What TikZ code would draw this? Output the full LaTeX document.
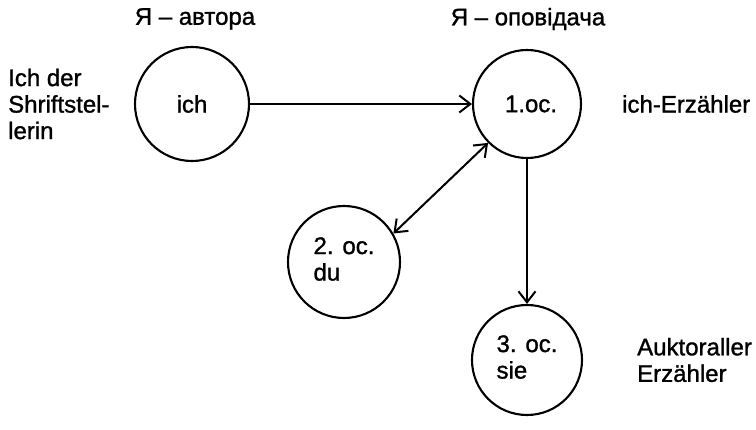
\documentclass[tikz,border=0pt]{standalone}
\usepackage{fontspec}
\setmainfont{Liberation Sans}
\newfontfamily\dkfont{Liberation Sans}[FakeBold=1.2]
\usetikzlibrary{arrows.meta}
\tikzset{
  circ/.style={circle, draw, line width=2.1pt, minimum size=110pt, inner sep=0pt, font=\dkfont\fontsize{24}{26.5}\selectfont},
  lbl/.style={inner sep=0pt, font=\dkfont\fontsize{24}{26.5}\selectfont},
  conn/.style={line width=2pt, -{Straight Barb[length=11pt,width=17pt,line width=2pt]}},
  dconn/.style={line width=2pt, {Straight Barb[length=11pt,width=17pt,line width=2pt]}-{Straight Barb[length=11pt,width=17pt,line width=2pt]}}
}
\begin{document}
\begin{tikzpicture}[x=1pt,y=-1pt]
\useasboundingbox (0,0) rectangle (756,430);
\node[circ, minimum size=114pt] (ich) at (192,104) {ich};
\node[circ, minimum size=108pt] (one) at (527,104) {\hspace*{8pt}1.ос.};
\node[circ, minimum size=112pt] (two) at (344,262) {\begin{tabular}{@{}l@{}}2. ос.\\du\end{tabular}};
\node[circ, minimum size=110pt] (three) at (527,360) {\begin{tabular}{@{}l@{}}3. ос.\\sie\end{tabular}};
\node[lbl] (tA) at (195,19) {Я – автора};
\node[lbl] (tB) at (528,19) {Я – оповідача};
\node[lbl, anchor=west, align=left] (left) at (8,104) {Ich der\\Shriftstel-\\lerin};
\node[lbl, anchor=west] (ie) at (622,104) {ich-Erzähler};
\node[lbl, anchor=west, align=left] (ae) at (637,360) {Auktoraller\\Erzähler};
\draw[conn] (ich.east) -- (one.west);
\draw[conn] (one.south) -- (three.north);
\draw[dconn] (two.30) -- (one.225);
\end{tikzpicture}
\end{document}
